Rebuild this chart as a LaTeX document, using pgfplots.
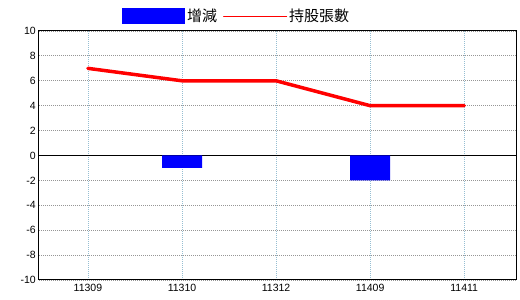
\documentclass[border=0pt]{standalone}
\usepackage{fontspec}
\setmainfont{Liberation Sans}
\newfontfamily\cjk{Noto Sans CJK TC}
\usepackage{pgfplots}
\pgfplotsset{compat=1.18}
\definecolor{vgrid}{RGB}{150,190,210}
\definecolor{hgrid}{RGB}{150,150,150}
\begin{document}
\begin{tikzpicture}[x=1pt,y=1pt]
\path[use as bounding box] (0,0) rectangle (520,300);
\begin{axis}[
  at={(39pt,20pt)}, anchor=south west,
  scale only axis, width=477pt, height=249pt,
  xmin=-0.52, xmax=4.55,
  ymin=-10, ymax=10,
  ytick={-10,-8,...,10},
  xtick={0,1,2,3,4},
  xticklabels={11309,11310,11312,11409,11411},
  major tick length=0pt,
  /pgf/number format/assume math mode=true,
  tick label style={font=\fontsize{10.5}{12}\selectfont},
  yticklabel style={inner sep=1pt, xshift=-2pt},
  xticklabel style={inner sep=1pt, yshift=-3pt},
  xmajorgrids, ymajorgrids,
  x grid style={vgrid, dash pattern=on 1pt off 1pt, line width=0.8pt},
  y grid style={hgrid, dash pattern=on 1pt off 1pt, line width=0.8pt},
  extra y ticks={0}, extra y tick labels={},
  extra y tick style={ymajorgrids=true, y grid style={black, solid, line width=1pt}},
  axis line style={black, line width=1pt},
  legend style={at={(0.174,1.06)}, anchor=west, draw=none, fill=none, inner sep=0pt,
     font=\cjk\fontsize{15}{16}\selectfont, legend columns=2,
     /tikz/every even column/.append style={column sep=4pt}},
  legend cell align=left,
]
\addplot[ybar, bar width=40pt, fill=blue, draw=none,
  legend image code/.code={\fill[blue] (0pt,-8pt) rectangle (63pt,8pt);}]
  coordinates {(1,-1) (3,-2)};
\addlegendentry{增減}
\addplot[red, line width=3.5pt, mark=none, line cap=round,
  legend image code/.code={\draw[red, line width=1pt] (0pt,0pt) -- (63pt,0pt);}]
  coordinates {(0,7) (1,6) (2,6) (3,4) (4,4)};
\addlegendentry{持股張數}
\end{axis}
\end{tikzpicture}
\end{document}
